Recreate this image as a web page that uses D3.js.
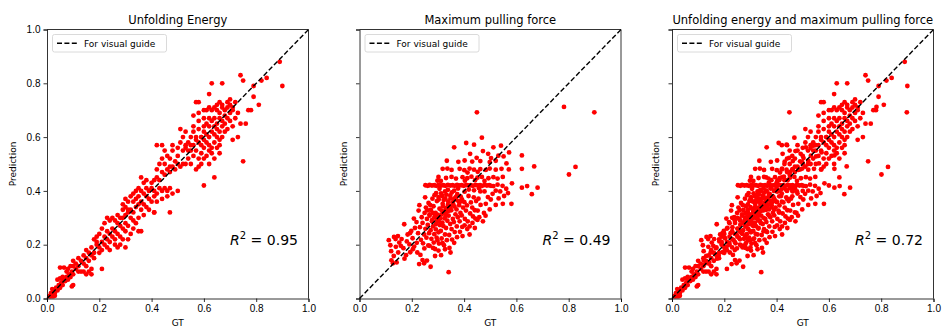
<!DOCTYPE html>
<html>
<head>
<meta charset="utf-8">
<script src="https://cdn.jsdelivr.net/npm/d3@7"></script>
<style>
  body { margin: 0; background: #fff; }
  svg { font-family: "DejaVu Sans", sans-serif; }
  .tick text { font-size: 10px; fill: #000; }
  .tick line, .domain { stroke: #000; stroke-width: 0.8; }
</style>
</head>
<body>
<svg id="svg" width="943" height="328"></svg>
<script>
const ticks = [0, 0.2, 0.4, 0.6, 0.8, 1.0];
const titles = ["Unfolding Energy", "Maximum pulling force", "Unfolding energy and maximum pulling force"];
const r2Labels = ["0.95", "0.49", "0.72"];
const legendLabel = "For visual guide";

// [GT, Prediction]
const energy = [
  [0.005,0.005],[0.01,0.01],[0.015,0.02],[0.02,0.01],[0.02,0.0],[0.025,0.03],[0.03,0.02],[0.03,0.01],[0.02,0.035],
  [0.035,0.04],[0.04,0.03],[0.045,0.05],[0.05,0.04],[0.055,0.06],[0.06,0.05],[0.04,0.07],[0.05,0.075],[0.06,0.08],
  [0.065,0.07],[0.07,0.065],[0.075,0.08],[0.08,0.07],[0.085,0.09],[0.09,0.08],[0.095,0.1],[0.1,0.09],[0.1,0.05],
  [0.095,0.045],[0.05,0.115],[0.065,0.115],[0.075,0.1],[0.08,0.11],[0.09,0.12],[0.1,0.12],[0.11,0.11],[0.11,0.13],
  [0.12,0.12],[0.12,0.1],[0.13,0.1],[0.13,0.14],[0.14,0.13],[0.14,0.1],[0.15,0.12],[0.15,0.09],[0.16,0.1],
  [0.17,0.09],[0.17,0.11],[0.16,0.14],[0.15,0.15],[0.12,0.15],[0.1,0.14],
  [0.17,0.16],[0.18,0.17],[0.17,0.19],[0.18,0.22],[0.19,0.2],[0.2,0.19],[0.2,0.17],[0.21,0.18],[0.21,0.21],
  [0.22,0.23],[0.22,0.2],[0.23,0.19],[0.23,0.22],[0.24,0.24],[0.24,0.21],[0.25,0.23],[0.25,0.26],[0.26,0.25],
  [0.26,0.22],[0.27,0.24],[0.27,0.28],[0.28,0.27],[0.28,0.23],[0.29,0.26],[0.29,0.3],[0.3,0.28],[0.3,0.25],
  [0.21,0.11],[0.27,0.19],[0.3,0.19],[0.28,0.2],[0.19,0.23],[0.2,0.24],[0.21,0.26],[0.22,0.28],[0.23,0.3],
  [0.24,0.29],[0.25,0.3],[0.23,0.25],[0.19,0.21],[0.16,0.17],[0.15,0.18],[0.14,0.16],[0.18,0.15],[0.24,0.18],
  [0.26,0.2],[0.31,0.22],[0.29,0.22],[0.32,0.24],[0.33,0.26],[0.31,0.27],[0.32,0.3],[0.33,0.29],[0.3,0.31],
  [0.31,0.32],[0.32,0.33],[0.28,0.3],[0.27,0.31],[0.26,0.29],[0.3,0.34],[0.29,0.33],[0.34,0.28],[0.35,0.25],
  [0.33,0.32],[0.34,0.34],[0.35,0.3],[0.36,0.33],[0.35,0.35],[0.34,0.37],[0.33,0.36],[0.32,0.38],[0.31,0.36],
  [0.3,0.37],[0.33,0.39],[0.35,0.38],[0.36,0.36],[0.37,0.35],[0.38,0.34],[0.37,0.31],[0.39,0.33],[0.41,0.32],
  [0.4,0.36],[0.39,0.37],[0.38,0.38],[0.36,0.4],[0.35,0.41],[0.34,0.4],[0.37,0.39],[0.38,0.41],[0.39,0.4],
  [0.4,0.41],[0.41,0.4],[0.42,0.39],[0.43,0.41],[0.44,0.4],[0.45,0.41],[0.46,0.4],[0.47,0.41],[0.46,0.38],
  [0.48,0.39],[0.5,0.4],[0.44,0.37],[0.42,0.36],[0.41,0.38],[0.47,0.32],[0.37,0.43],[0.38,0.44],[0.36,0.45],
  [0.31,0.33],[0.29,0.35],[0.36,0.25],[0.41,0.32],
  [0.4,0.43],[0.41,0.44],[0.42,0.45],[0.43,0.44],[0.44,0.47],[0.45,0.46],[0.46,0.48],[0.47,0.47],[0.48,0.49],
  [0.49,0.48],[0.5,0.5],[0.42,0.48],[0.43,0.5],[0.44,0.52],[0.45,0.5],[0.46,0.53],[0.42,0.57],[0.44,0.57],
  [0.45,0.55],[0.47,0.52],[0.48,0.55],[0.5,0.53],[0.49,0.51],[0.51,0.49],[0.52,0.5],[0.5,0.56],[0.51,0.58],
  [0.52,0.6],[0.53,0.56],[0.54,0.58],[0.51,0.63],[0.53,0.62],[0.48,0.57],[0.47,0.49],
  [0.55,0.55],[0.56,0.53],[0.57,0.55],[0.58,0.52],[0.59,0.54],[0.6,0.56],[0.61,0.53],[0.62,0.55],[0.63,0.54],
  [0.54,0.52],[0.53,0.5],[0.55,0.5],[0.56,0.57],[0.57,0.59],[0.58,0.58],[0.59,0.6],[0.6,0.59],[0.61,0.61],
  [0.62,0.6],[0.63,0.62],[0.64,0.61],[0.55,0.6],[0.56,0.62],[0.57,0.6],[0.58,0.63],[0.59,0.57],[0.6,0.62],
  [0.61,0.58],[0.62,0.57],[0.64,0.58],[0.65,0.56],[0.63,0.56],[0.59,0.5],[0.58,0.49],[0.6,0.52],[0.57,0.48],
  [0.62,0.5],[0.66,0.54],[0.64,0.52],[0.65,0.6],[0.66,0.62],[0.67,0.64],[0.65,0.65],[0.64,0.64],[0.63,0.66],
  [0.62,0.67],[0.61,0.65],[0.6,0.64],[0.66,0.67],[0.67,0.66],[0.68,0.68],[0.69,0.67],[0.7,0.69],[0.68,0.7],
  [0.67,0.71],[0.66,0.69],[0.65,0.7],[0.64,0.71],[0.63,0.7],[0.62,0.71],[0.61,0.7],[0.6,0.7],[0.65,0.72],
  [0.67,0.72],[0.69,0.71],[0.7,0.72],[0.71,0.7],[0.68,0.65],[0.69,0.63],[0.7,0.66],[0.71,0.64],[0.72,0.67],
  [0.66,0.59],[0.67,0.6],[0.68,0.62],[0.65,0.63],[0.66,0.57],[0.6,0.67],[0.58,0.66],[0.58,0.69],[0.57,0.73],
  [0.56,0.68],[0.59,0.6],[0.53,0.57],[0.54,0.55],[0.52,0.55],[0.56,0.64],[0.55,0.57],[0.62,0.64],[0.64,0.67],
  [0.69,0.73],[0.71,0.71],[0.7,0.74],[0.66,0.73],
  [0.6,0.42],[0.64,0.45],[0.75,0.51],[0.71,0.59],[0.73,0.6],[0.74,0.65],[0.77,0.7],[0.78,0.7],[0.81,0.72],
  [0.79,0.75],[0.84,0.82],[0.82,0.81],[0.89,0.88],[0.9,0.79],[0.79,0.79],[0.74,0.83],[0.75,0.81],[0.67,0.8],
  [0.63,0.8],[0.62,0.76],[0.58,0.73],[0.72,0.73],[0.73,0.69],[0.76,0.65]
];

const force = [
  [0.112,0.217],[0.118,0.198],[0.121,0.176],[0.131,0.158],[0.128,0.131],[0.122,0.142],[0.142,0.134],[0.139,0.192],
  [0.152,0.208],[0.148,0.171],[0.161,0.221],[0.158,0.196],[0.172,0.148],[0.168,0.187],[0.181,0.212],[0.184,0.238],
  [0.178,0.161],[0.193,0.243],[0.191,0.201],[0.203,0.224],[0.198,0.251],[0.147,0.232],[0.138,0.221],[0.171,0.276],
  [0.132,0.229],[0.194,0.172],[0.204,0.183],
  [0.228,0.128],[0.247,0.131],[0.258,0.141],[0.272,0.118],[0.341,0.098],[0.289,0.158],[0.221,0.171],[0.233,0.162],
  [0.241,0.143],[0.302,0.178],[0.312,0.161],[0.348,0.171],[0.281,0.188],
  [0.212,0.262],[0.208,0.297],[0.224,0.243],[0.218,0.284],[0.226,0.327],[0.235,0.218],[0.231,0.265],[0.238,0.302],
  [0.229,0.347],[0.243,0.205],[0.247,0.238],[0.241,0.281],[0.249,0.318],[0.256,0.226],[0.252,0.259],[0.258,0.296],
  [0.254,0.338],[0.251,0.376],[0.263,0.197],[0.266,0.243],[0.261,0.274],[0.268,0.308],[0.264,0.355],[0.275,0.222],
  [0.272,0.254],[0.277,0.287],[0.273,0.329],[0.279,0.371],[0.284,0.208],[0.286,0.239],[0.281,0.268],[0.288,0.303],
  [0.283,0.343],[0.287,0.384],[0.295,0.226],[0.292,0.257],[0.297,0.291],[0.291,0.318],[0.296,0.362],[0.304,0.204],
  [0.302,0.246],[0.307,0.273],[0.301,0.305],[0.306,0.334],[0.303,0.368],[0.314,0.223],[0.311,0.251],[0.317,0.282],
  [0.313,0.312],[0.318,0.352],[0.312,0.391],[0.323,0.198],[0.327,0.238],[0.321,0.269],[0.325,0.298],[0.328,0.327],
  [0.322,0.366],[0.334,0.217],[0.331,0.262],[0.336,0.289],[0.333,0.321],[0.338,0.348],[0.332,0.386],[0.343,0.236],
  [0.347,0.277],[0.341,0.308],[0.345,0.339],[0.348,0.372],[0.354,0.219],[0.352,0.258],[0.357,0.296],[0.351,0.328],
  [0.356,0.357],[0.353,0.394],[0.364,0.247],[0.361,0.284],[0.367,0.313],[0.363,0.342],[0.368,0.377],[0.372,0.268],
  [0.376,0.302],[0.371,0.331],[0.378,0.362],[0.374,0.388],[0.383,0.287],[0.386,0.318],[0.381,0.347],[0.387,0.379],
  [0.393,0.266],[0.391,0.309],[0.396,0.338],[0.392,0.368],[0.403,0.296],[0.407,0.327],[0.401,0.358],[0.414,0.287],
  [0.411,0.346],[0.417,0.381],[0.423,0.316],[0.426,0.357],[0.434,0.305],[0.431,0.338],[0.437,0.376],[0.443,0.297],
  [0.446,0.362],[0.452,0.327],[0.455,0.371],[0.463,0.348],[0.472,0.287],[0.483,0.352],[0.476,0.318],[0.384,0.248],
  [0.402,0.272],[0.373,0.228],[0.362,0.207],[0.344,0.188],[0.327,0.183],[0.298,0.216],[0.268,0.196],[0.248,0.186],
  [0.219,0.207],[0.209,0.193],[0.421,0.268],[0.441,0.328],[0.462,0.398],[0.412,0.258],[0.394,0.232],[0.318,0.206],
  [0.289,0.184],
  [0.292,0.276],[0.303,0.287],[0.309,0.298],[0.298,0.312],[0.314,0.327],[0.321,0.318],[0.329,0.307],[0.319,0.343],
  [0.331,0.336],[0.342,0.326],[0.287,0.302],[0.281,0.318],[0.278,0.292],[0.268,0.313],[0.349,0.343],[0.358,0.352],
  [0.339,0.361],[0.328,0.372],[0.259,0.328],[0.271,0.347],[0.362,0.371],[0.347,0.383],[0.369,0.368],[0.382,0.357],
  [0.389,0.362],[0.316,0.381],[0.302,0.377],[0.293,0.392],
  [0.252,0.421],[0.261,0.419],[0.268,0.422],[0.277,0.42],[0.286,0.421],[0.294,0.419],[0.303,0.422],[0.312,0.42],
  [0.321,0.421],[0.329,0.419],[0.338,0.422],[0.347,0.42],[0.356,0.421],[0.364,0.419],[0.373,0.422],[0.382,0.42],
  [0.391,0.421],[0.399,0.419],[0.408,0.422],[0.417,0.42],[0.426,0.421],[0.434,0.419],[0.443,0.422],[0.452,0.42],
  [0.461,0.421],[0.469,0.419],[0.478,0.422],[0.487,0.42],[0.496,0.421],[0.503,0.419],
  [0.306,0.408],[0.338,0.404],[0.377,0.409],[0.418,0.405],[0.457,0.41],[0.327,0.398],[0.362,0.401],[0.402,0.397],
  [0.438,0.402],[0.298,0.438],[0.302,0.452],[0.311,0.437],
  [0.331,0.448],[0.352,0.452],[0.369,0.446],[0.394,0.451],[0.412,0.447],[0.428,0.453],[0.451,0.449],[0.468,0.452],
  [0.493,0.447],[0.512,0.451],[0.528,0.446],[0.548,0.452],[0.403,0.438],[0.442,0.44],[0.478,0.437],
  [0.336,0.483],[0.352,0.478],[0.383,0.482],[0.401,0.477],[0.421,0.483],[0.438,0.479],[0.462,0.481],[0.483,0.478],
  [0.498,0.483],[0.521,0.479],[0.543,0.482],[0.571,0.48],[0.318,0.482],[0.413,0.468],[0.452,0.471],
  [0.334,0.512],[0.378,0.508],[0.402,0.513],[0.431,0.509],[0.462,0.511],[0.498,0.507],[0.521,0.512],[0.448,0.523],
  [0.423,0.538],[0.472,0.548],[0.492,0.538],[0.362,0.562],[0.408,0.578],[0.438,0.572],[0.468,0.598],[0.512,0.562],
  [0.541,0.568],[0.572,0.543],[0.551,0.528],[0.621,0.532],[0.449,0.692],[0.782,0.712],[0.898,0.692],[0.801,0.461],
  [0.826,0.489],[0.668,0.491],[0.621,0.482],[0.503,0.522],[0.531,0.531],[0.562,0.502],
  [0.512,0.418],[0.528,0.423],[0.547,0.419],[0.521,0.401],[0.538,0.398],[0.561,0.408],[0.583,0.428],[0.621,0.412],
  [0.641,0.418],[0.659,0.388],[0.681,0.412],[0.581,0.352],[0.568,0.392],[0.532,0.372],[0.553,0.381],[0.502,0.368],
  [0.521,0.348],[0.498,0.331],[0.482,0.308],[0.491,0.377],[0.478,0.398],[0.548,0.352],[0.509,0.389],
  [0.421,0.238],[0.432,0.281],[0.451,0.292],[0.458,0.302],[0.441,0.262]
];

const combined = energy.concat(force);
const panelData = [energy, force, combined];

const panelLeft = [47, 359.5, 672];
const plotW = 261.5;
const plotTop = 29.5;
const plotH = 269;

const svg = d3.select("#svg");

svg.append("defs")
  .selectAll("clipPath")
  .data(panelLeft)
  .enter()
  .append("clipPath")
  .attr("id", (d, i) => "clip" + i)
  .append("rect")
  .attr("width", plotW)
  .attr("height", plotH);

panelData.forEach((data, i) => {
  const x = d3.scaleLinear().domain([0, 1]).range([0, plotW]);
  const y = d3.scaleLinear().domain([0, 1]).range([plotH, 0]);

  const g = svg.append("g")
    .attr("transform", "translate(" + panelLeft[i] + "," + plotTop + ")");

  g.append("g")
    .attr("clip-path", "url(#clip" + i + ")")
    .selectAll("circle")
    .data(data)
    .enter()
    .append("circle")
    .attr("cx", d => x(d[0]))
    .attr("cy", d => y(d[1]))
    .attr("r", 2.4)
    .attr("fill", "#ff0000");

  g.append("line")
    .attr("x1", x(0)).attr("y1", y(0))
    .attr("x2", x(1)).attr("y2", y(1))
    .attr("stroke", "#000")
    .attr("stroke-width", 1.4)
    .attr("stroke-dasharray", "5,2.4");

  const xAxis = d3.axisBottom(x).tickValues(ticks).tickFormat(d3.format(".1f")).tickSizeOuter(0).tickSize(3.5).tickPadding(3);
  const yAxis = d3.axisLeft(y).tickValues(ticks).tickSizeOuter(0).tickSize(3.5).tickPadding(3)
    .tickFormat(i === 0 ? d3.format(".1f") : () => "");

  g.append("g").attr("transform", "translate(0," + plotH + ")").call(xAxis)
    .selectAll("text").attr("font-family", null).attr("font-size", null);
  g.append("g").call(yAxis)
    .selectAll("text").attr("font-family", null).attr("font-size", null);

  g.append("line").attr("x1", plotW).attr("x2", plotW).attr("y1", 0).attr("y2", plotH)
    .attr("stroke", "#000").attr("stroke-width", 0.8);
  g.append("line").attr("x1", 0).attr("x2", plotW).attr("y1", 0).attr("y2", 0)
    .attr("stroke", "#000").attr("stroke-width", 0.8);

  g.append("text")
    .attr("x", plotW / 2).attr("y", -6)
    .attr("text-anchor", "middle")
    .attr("font-size", 11.5)
    .text(titles[i]);

  g.append("text")
    .attr("x", plotW / 2).attr("y", plotH + 27)
    .attr("text-anchor", "middle")
    .attr("font-size", 9)
    .text("GT");

  g.append("text")
    .attr("transform", "translate(" + (i === 0 ? -31 : -13) + "," + plotH / 2 + ") rotate(-90)")
    .attr("text-anchor", "middle")
    .attr("font-size", 9)
    .text("Prediction");

  const r2 = g.append("text")
    .attr("x", x(0.7)).attr("y", y(0.2))
    .attr("font-size", 14);
  r2.append("tspan").attr("font-style", "italic").text("R");
  r2.append("tspan").attr("font-size", 10).attr("dy", -6).text("2");
  r2.append("tspan").attr("dy", 6).text(" = " + r2Labels[i]);

  const lg = g.append("g").attr("transform", "translate(5.5,5)");
  lg.append("rect")
    .attr("width", 114).attr("height", 17.5)
    .attr("rx", 2)
    .attr("fill", "#fff").attr("fill-opacity", 0.8)
    .attr("stroke", "#d0d0d0").attr("stroke-width", 0.8);
  lg.append("line")
    .attr("x1", 4.5).attr("x2", 24.5).attr("y1", 8.8).attr("y2", 8.8)
    .attr("stroke", "#000").attr("stroke-width", 1.4)
    .attr("stroke-dasharray", "5,2.4");
  lg.append("text")
    .attr("x", 31.5).attr("y", 12)
    .attr("font-size", 9)
    .text(legendLabel);
});
</script>
</body>
</html>
